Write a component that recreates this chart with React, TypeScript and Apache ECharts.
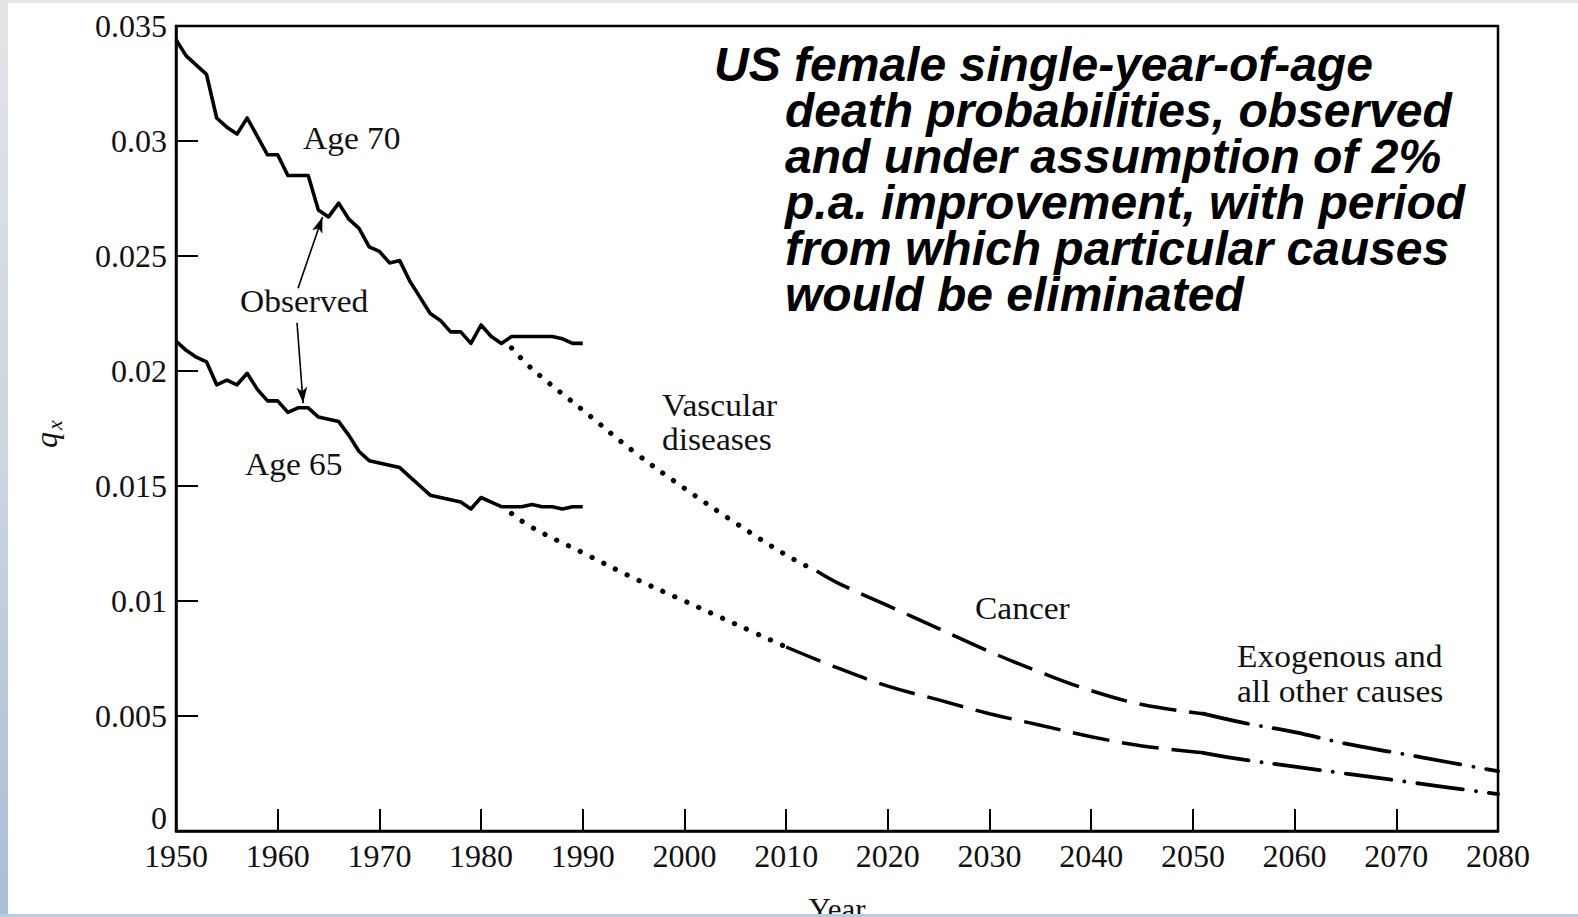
import React, { useEffect, useRef } from "react";
import * as echarts from "echarts";

// Observed single-year-of-age death probabilities (US females)
const observedYears = [
  1950, 1951, 1952, 1953, 1954, 1955, 1956, 1957, 1958, 1959,
  1960, 1961, 1962, 1963, 1964, 1965, 1966, 1967, 1968, 1969,
  1970, 1971, 1972, 1973, 1974, 1975, 1976, 1977, 1978, 1979,
  1980, 1981, 1982, 1983, 1984, 1985, 1986, 1987, 1988, 1989,
  1990,
];
const age70Observed = [
  0.0344, 0.0337, 0.0333, 0.0329, 0.031, 0.0306, 0.0303, 0.031, 0.0302, 0.0294,
  0.0294, 0.0285, 0.0285, 0.0285, 0.027, 0.0267, 0.0273, 0.0266, 0.0262, 0.0254,
  0.0252, 0.0247, 0.0248, 0.0239, 0.0232, 0.0225, 0.0222, 0.0217, 0.0217, 0.0212,
  0.022, 0.0215, 0.0212, 0.0215, 0.0215, 0.0215, 0.0215, 0.0215, 0.0214, 0.0212,
  0.0212,
];
const age65Observed = [
  0.0213, 0.0209, 0.0206, 0.0204, 0.0194, 0.0196, 0.0194, 0.0199, 0.0192, 0.0187,
  0.0187, 0.0182, 0.0184, 0.0184, 0.018, 0.0179, 0.0178, 0.0172, 0.0165, 0.0161,
  0.016, 0.0159, 0.0158, 0.0154, 0.015, 0.0146, 0.0145, 0.0144, 0.0143, 0.014,
  0.0145, 0.0143, 0.0141, 0.0141, 0.0141, 0.0142, 0.0141, 0.0141, 0.014, 0.0141,
  0.0141,
];

// Projections under 2% p.a. improvement, split by the period in which each cause is eliminated
const age70VascularYears = [1983, 1985, 1990, 1995, 2000, 2005, 2010, 2013];
const age70Vascular = [0.021, 0.0201, 0.0183, 0.0165, 0.0149, 0.0134, 0.012, 0.0113];
const age70CancerYears = [2013, 2015, 2020, 2025, 2030, 2035, 2040, 2045, 2051];
const age70Cancer = [0.0113, 0.0108, 0.0098, 0.0088, 0.0078, 0.0069, 0.0061, 0.0055, 0.0051];
const age70OtherYears = [2051, 2055, 2060, 2065, 2070, 2075, 2080];
const age70Other = [0.0051, 0.0047, 0.0043, 0.0038, 0.0034, 0.003, 0.0026];

const age65VascularYears = [1983, 1985, 1990, 1995, 2000, 2005, 2010];
const age65Vascular = [0.0138, 0.0132, 0.0121, 0.011, 0.01, 0.009, 0.008];
const age65CancerYears = [2010, 2015, 2020, 2025, 2030, 2035, 2040, 2045, 2051];
const age65Cancer = [0.008, 0.0071, 0.0063, 0.0057, 0.0051, 0.0046, 0.0041, 0.0037, 0.0034];
const age65OtherYears = [2051, 2055, 2060, 2065, 2070, 2075, 2080];
const age65Other = [0.0034, 0.0031, 0.0028, 0.0025, 0.0022, 0.0019, 0.0016];

// "Observed" pointer arrows: [start, tip] in (year, q) coordinates
const arrowToAge70 = [[1962.0, 0.0236], [1964.4, 0.0267]];
const arrowToAge65 = [[1961.9, 0.0221], [1962.5, 0.0186]];

const yTickLabels = ["0", "0.005", "0.01", "0.015", "0.02", "0.025", "0.03", "0.035"];

const titleLines = [
  "US female single-year-of-age",
  "death probabilities, observed",
  "and under assumption of 2%",
  "p.a. improvement, with period",
  "from which particular causes",
  "would be eliminated",
];

const SERIF = '"Liberation Serif", "Times New Roman", serif';
const SANS = '"Liberation Sans", Arial, sans-serif';
const INK = "#111";
const TICK_FONT = 32;

const zip = (xs: number[], ys: number[]) => xs.map((x, i) => [x, ys[i]]);

function serifLabel(text: string, x: number, y: number) {
  return {
    type: "text",
    x,
    y,
    scaleX: 1.08,
    z: 10,
    style: {
      text,
      fill: INK,
      fontFamily: SERIF,
      fontSize: 31,
      align: "left",
      verticalAlign: "middle",
      textAlign: "left",
      textVerticalAlign: "middle",
    },
  };
}

function titleText(text: string, x: number, y: number, vAlign: string) {
  return {
    type: "text",
    x,
    y,
    z: 10,
    style: {
      text,
      fill: "#000",
      fontFamily: SANS,
      fontSize: 48,
      lineHeight: 46,
      fontWeight: "bold",
      fontStyle: "italic",
      align: "left",
      verticalAlign: vAlign,
      textAlign: "left",
      textVerticalAlign: vAlign,
    },
  };
}

function italicGlyph(text: string, x: number, y: number, size: number) {
  return {
    type: "text",
    x,
    y,
    rotation: Math.PI / 2,
    z: 10,
    style: {
      text,
      fill: INK,
      fontFamily: SERIF,
      fontStyle: "italic",
      fontSize: size,
      align: "center",
      verticalAlign: "middle",
      textAlign: "center",
      textVerticalAlign: "middle",
    },
  };
}

function projection(name: string, data: number[][], kind: "dot" | "dash" | "dashdot") {
  const lineStyle: any = { color: "#000" };
  if (kind === "dot") {
    lineStyle.width = 5.2;
    lineStyle.type = [0.1, 13];
    lineStyle.cap = "round";
  } else if (kind === "dash") {
    lineStyle.width = 3.5;
    lineStyle.type = [37, 13];
    lineStyle.cap = "butt";
  } else {
    lineStyle.width = 3.8;
    lineStyle.type = [46, 13, 0.1, 13];
    lineStyle.cap = "round";
  }
  return {
    name,
    type: "line",
    data,
    smooth: 0.4,
    symbol: "none",
    silent: true,
    lineStyle,
    z: 3,
  };
}

export default function App() {
  const ref = useRef<HTMLDivElement>(null);

  useEffect(() => {
    const chart = echarts.init(ref.current!, null, { renderer: "svg" });

    const option: any = {
      animation: false,
      backgroundColor: "#ffffff",
      grid: {
        left: 176,
        top: 26,
        right: 80,
        bottom: 86,
        containLabel: false,
        outerBoundsMode: "none",
        show: true,
        borderColor: "#000",
        borderWidth: 2.5,
      },
      xAxis: {
        type: "value",
        min: 1950,
        max: 2080,
        interval: 10,
        name: "Year",
        nameLocation: "middle",
        nameGap: 63,
        nameTextStyle: { fontFamily: SERIF, fontSize: 31, color: INK },
        axisLine: { show: true, lineStyle: { color: "#000", width: 2.5 } },
        axisTick: { show: true, inside: true, length: 22, lineStyle: { color: "#000", width: 2 } },
        axisLabel: {
          fontFamily: SERIF,
          fontSize: TICK_FONT,
          color: INK,
          margin: 9,
          formatter: (v: number) => String(v),
        },
        splitLine: { show: false },
      },
      yAxis: {
        type: "value",
        min: 0,
        max: 0.035,
        interval: 0.005,
        axisLine: { show: true, lineStyle: { color: "#000", width: 2.5 } },
        axisTick: { show: true, inside: true, length: 22, lineStyle: { color: "#000", width: 2 } },
        axisLabel: {
          fontFamily: SERIF,
          fontSize: TICK_FONT,
          color: INK,
          margin: 9,
          // the origin label sits a little above the x axis
          formatter: (v: number) => {
            const i = Math.round(v / 0.005);
            return i === 0 ? "{zero|" + yTickLabels[0] + "}" : yTickLabels[i] ?? "";
          },
          rich: {
            zero: {
              fontFamily: SERIF,
              fontSize: TICK_FONT,
              color: INK,
              padding: [0, 0, 26, 0],
            },
          },
        },
        splitLine: { show: false },
      },
      series: [
        {
          name: "Age 70 observed",
          type: "line",
          data: zip(observedYears, age70Observed),
          symbol: "none",
          silent: true,
          lineStyle: { color: "#000", width: 3.6, join: "round" },
          z: 4,
          markLine: {
            silent: true,
            symbol: ["none", "arrow"],
            symbolSize: [8, 16],
            label: { show: false },
            lineStyle: { color: "#000", width: 1.6, type: "solid" },
            data: [
              [{ coord: arrowToAge70[0] }, { coord: arrowToAge70[1] }],
              [{ coord: arrowToAge65[0] }, { coord: arrowToAge65[1] }],
            ],
          },
        },
        {
          name: "Age 65 observed",
          type: "line",
          data: zip(observedYears, age65Observed),
          symbol: "none",
          silent: true,
          lineStyle: { color: "#000", width: 3.6, join: "round" },
          z: 4,
        },
        projection("Age 70 vascular", zip(age70VascularYears, age70Vascular), "dot"),
        projection("Age 70 cancer", zip(age70CancerYears, age70Cancer), "dash"),
        projection("Age 70 other", zip(age70OtherYears, age70Other), "dashdot"),
        projection("Age 65 vascular", zip(age65VascularYears, age65Vascular), "dot"),
        projection("Age 65 cancer", zip(age65CancerYears, age65Cancer), "dash"),
        projection("Age 65 other", zip(age65OtherYears, age65Other), "dashdot"),
      ],
      graphic: [
        // slide frame strips
        {
          type: "rect",
          z: 100,
          shape: { x: 0, y: 0, width: 8, height: 917 },
          style: {
            fill: new echarts.graphic.LinearGradient(0, 0, 0, 1, [
              { offset: 0, color: "#e3e4e7" },
              { offset: 0.5, color: "#cdd5e0" },
              { offset: 1, color: "#a9bdd6" },
            ]),
          },
        },
        { type: "rect", z: 100, shape: { x: 0, y: 0, width: 1578, height: 3 }, style: { fill: "#e6e6e8" } },
        { type: "rect", z: 100, shape: { x: 0, y: 914, width: 1578, height: 3 }, style: { fill: "#b9cbe0" } },

        // title block: first line hangs out to the left of the rest
        titleText(titleLines[0], 714, 64.5, "middle"),
        titleText(titleLines.slice(1).join("\n"), 785, 87.4, "top"),

        // curve annotations
        serifLabel("Age 70", 303, 138.8),
        serifLabel("Observed", 240, 301.2),
        serifLabel("Age 65", 245, 464.5),
        serifLabel("Vascular", 662, 405.5),
        serifLabel("diseases", 662, 439.5),
        serifLabel("Cancer", 975, 608.5),
        serifLabel("Exogenous and", 1237, 656.2),
        serifLabel("all other causes", 1237, 691.2),

        // y-axis quantity q with subscript x, reading upwards
        italicGlyph("q", 46, 440, 32),
        italicGlyph("x", 54, 425, 22),
      ],
    };

    chart.setOption(option);
    return () => chart.dispose();
  }, []);

  return (
    <div
      ref={ref}
      style={{ position: "fixed", left: 0, top: 0, width: 1578, height: 917, background: "#fff" }}
    />
  );
}
